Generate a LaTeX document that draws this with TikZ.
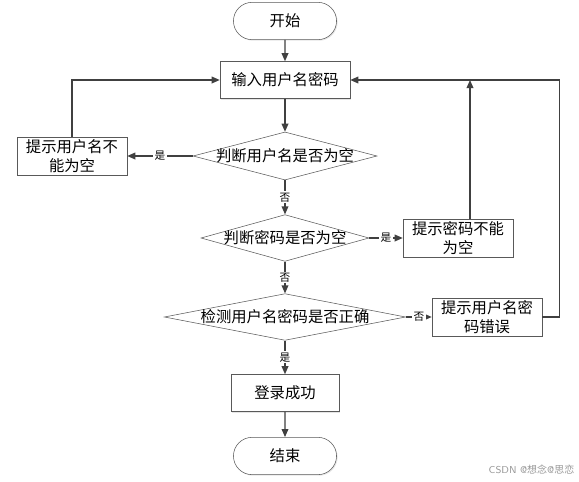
\documentclass[tikz,border=0pt]{standalone}
\usepackage{fontspec}
\newfontfamily\cjk{Noto Sans CJK SC}
\usetikzlibrary{shapes.geometric,shapes.misc,arrows.meta,shadows}

\begin{document}
\begin{tikzpicture}[x=0.75pt,y=-0.75pt,
    font=\cjk\fontsize{11.5}{14}\selectfont,
    line/.style={draw=black!75, line width=0.9pt},
    arrow/.style={line, -{Triangle[length=6pt,width=5pt]}},
    shade/.style={drop shadow={shadow xshift=0.8pt, shadow yshift=-0.8pt, opacity=0.2}},
    terminal/.style={rounded rectangle, draw=black!65, fill=white, shade, minimum width=84pt, minimum height=28pt},
    process/.style={rectangle, draw=black!65, fill=white, shade, align=center, minimum width=82.5pt, minimum height=28.5pt, inner sep=1pt},
    decision/.style={diamond, draw=black!65, fill=white, inner sep=0pt},
    tag/.style={fill=white, inner sep=1pt, font=\cjk\fontsize{8}{9}\selectfont}]

    % Fix the picture size
    \useasboundingbox[fill=white] (0,0) rectangle (579,482);

    % Main column
    \node[terminal] (start) at (285,21) {开始};
    \node[process, minimum width=97.5pt, minimum height=27.75pt] (input) at (285,80) {输入用户名密码};
    \node[decision, minimum width=138pt, minimum height=36pt] (chkname) at (285,156) {\makebox[0pt]{判断用户名是否为空}};
    \node[decision, minimum width=126pt, minimum height=35pt] (chkpwd) at (285,238) {\makebox[0pt]{判断密码是否为空}};
    \node[decision, minimum width=181pt, minimum height=35pt] (verify) at (285,317) {\makebox[0pt]{检测用户名密码是否正确}};
    \node[process, minimum width=81pt, minimum height=27.75pt] (success) at (285,393) {登录成功};
    \node[terminal] (stop) at (285,456) {结束};

    % Prompt boxes
    \node[process] (noname) at (72,156) {提示用户名不\\能为空};
    \node[process] (nopwd) at (458,238) {提示密码不能\\为空};
    \node[process] (wrong) at (487,317) {提示用户名密\\码错误};

    % Flow down
    \draw[arrow] (start) -- (input);
    \draw[arrow] (input) -- (chkname);
    \draw[arrow] (chkname.south) -- node[tag] {否} (chkpwd.north);
    \draw[arrow] (chkpwd.south) -- node[tag] {否} (verify.north);
    \draw[arrow] (verify.south) -- node[tag] {是} (success.north);
    \draw[arrow] (success) -- (stop);

    % Branches to the prompts
    \draw[arrow] (chkname.west) -- node[tag] {是} (noname.east);
    \draw[arrow] (chkpwd.east) -- node[tag] {是} (nopwd.west);
    \draw[arrow] (verify.east) -- node[tag] {否} (wrong.west);

    % Loops back to the input
    \coordinate (back) at (470,80);
    \draw[arrow] (noname.north) |- (input.west);
    \draw[arrow] (back |- nopwd.north) -- (back);
    \draw[arrow] (wrong.east) -- ++(17,0) |- (input.east);

    % Watermark
    \node[anchor=east, text=black!40, font=\sffamily\fontsize{7.5}{9}\selectfont] (mark) at (579,470) {CSDN @{\cjk 想念}@{\cjk 思恋}};
\end{tikzpicture}
\end{document}
